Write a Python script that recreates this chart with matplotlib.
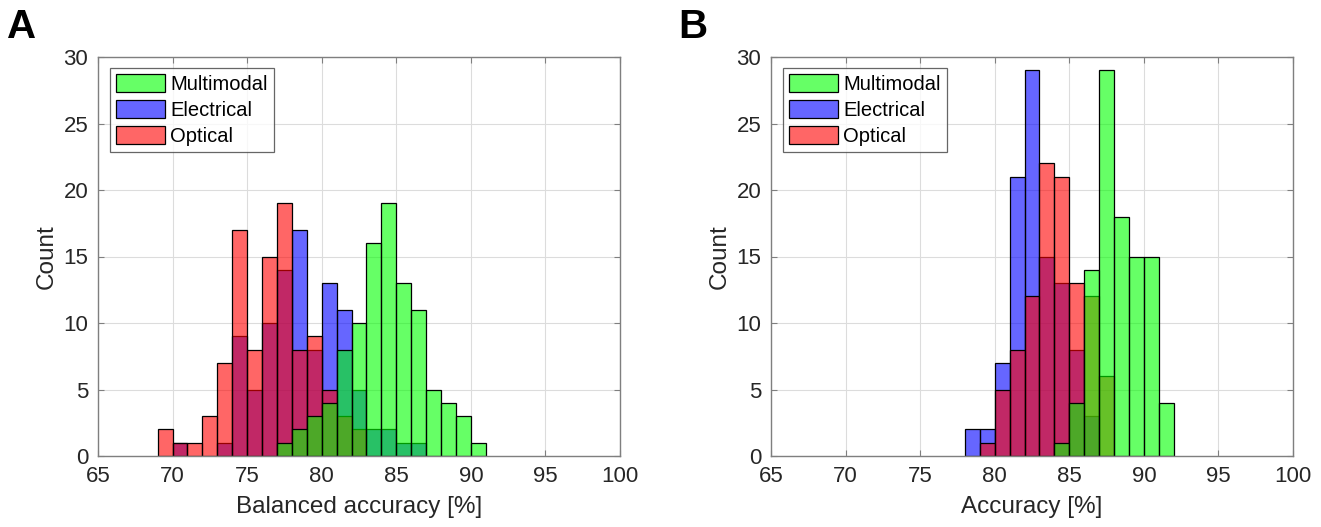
import numpy as np
import matplotlib
matplotlib.use("Agg")
import matplotlib.pyplot as plt
from matplotlib.patches import Patch

plt.rcParams['font.family'] = ['Liberation Sans', 'DejaVu Sans']

# bin left edges (bin width 1 %) and counts
# panel A: balanced accuracy
a_mm_edges = [77, 78, 79, 80, 81, 82, 83, 84, 85, 86, 87, 88, 89, 90]
a_mm_counts = [1, 2, 3, 4, 8, 10, 16, 19, 13, 11, 5, 4, 3, 1]
a_el_edges = [70, 73, 74, 75, 76, 77, 78, 79, 80, 81, 82, 83, 84, 85, 86]
a_el_counts = [1, 1, 9, 5, 10, 14, 17, 8, 13, 11, 5, 2, 2, 1, 1]
a_op_edges = [69, 70, 71, 72, 73, 74, 75, 76, 77, 78, 79, 80, 81, 82]
a_op_counts = [2, 1, 1, 3, 7, 17, 8, 15, 19, 8, 9, 5, 3, 2]

# panel B: accuracy
b_mm_edges = [84, 85, 86, 87, 88, 89, 90, 91]
b_mm_counts = [1, 4, 14, 29, 18, 15, 15, 4]
b_el_edges = [78, 79, 80, 81, 82, 83, 84, 85, 86]
b_el_counts = [2, 2, 7, 21, 29, 15, 13, 8, 3]
b_op_edges = [79, 80, 81, 82, 83, 84, 85, 86, 87]
b_op_counts = [1, 5, 8, 12, 22, 21, 13, 12, 6]

labels = ['Multimodal', 'Electrical', 'Optical']
colors = {'Multimodal': (0, 1, 0, 0.6), 'Electrical': (0, 0, 1, 0.6), 'Optical': (1, 0, 0, 0.6)}

W, H = 1321, 527
fig = plt.figure(figsize=(W / 100, H / 100), dpi=100)

tick_color = '#262626'


def draw_panel(rect, data, xlabel, letter, letter_x):
    ax = fig.add_axes(rect)
    # drawing order: electrical, optical, multimodal on top
    for name in ['Electrical', 'Optical', 'Multimodal']:
        edges, counts = data[name]
        ax.bar(edges, counts, width=1, align='edge', facecolor=colors[name],
               edgecolor='black', linewidth=0.9)
    ax.set_xlim(65, 100)
    ax.set_ylim(0, 30)
    ax.set_xticks(np.arange(65, 101, 5))
    ax.set_yticks(np.arange(0, 31, 5))
    ax.grid(True, color='#dcdcdc', linewidth=0.8)
    ax.set_axisbelow(True)
    ax.tick_params(direction='in', top=True, right=True, length=4,
                   labelsize=16, colors='#7f7f7f', labelcolor=tick_color, pad=7)
    for s in ax.spines.values():
        s.set_color('#7f7f7f')
        s.set_linewidth(1.0)
    ax.set_xlabel(xlabel, fontsize=17.5, color=tick_color, labelpad=7)
    ax.set_ylabel('Count', fontsize=17.5, color=tick_color, labelpad=4)
    handles = [Patch(facecolor=colors[n], edgecolor='black', linewidth=0.9) for n in labels]
    leg = ax.legend(handles, labels, loc='upper left', fontsize=14.5,
                    bbox_to_anchor=(0.023, 0.972), borderaxespad=0,
                    handlelength=2.45, handleheight=0.95, handletextpad=0.25,
                    labelspacing=0.32, borderpad=0.3, frameon=True, fancybox=False)
    leg.get_frame().set_edgecolor('#404040')
    leg.get_frame().set_linewidth(0.9)
    fig.text(letter_x, 1 - 27 / H, letter, fontsize=29, fontweight='bold',
             va='center', ha='left')
    return ax


ax_w = 522 / W
ax_h = 399 / H
bottom = (H - 456) / H

draw_panel([98 / W, bottom, ax_w, ax_h],
           {'Multimodal': (a_mm_edges, a_mm_counts),
            'Electrical': (a_el_edges, a_el_counts),
            'Optical': (a_op_edges, a_op_counts)},
           'Balanced accuracy [%]', 'A', 7 / W)
draw_panel([771 / W, bottom, ax_w, ax_h],
           {'Multimodal': (b_mm_edges, b_mm_counts),
            'Electrical': (b_el_edges, b_el_counts),
            'Optical': (b_op_edges, b_op_counts)},
           'Accuracy [%]', 'B', 678 / W)

fig.savefig('out.png', dpi=100)
